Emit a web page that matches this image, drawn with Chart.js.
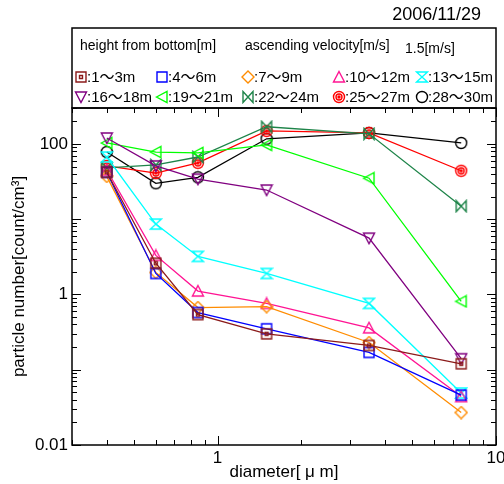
<!DOCTYPE html>
<html>
<head>
<meta charset="utf-8">
<script src="https://cdn.jsdelivr.net/npm/chart.js@4/dist/chart.umd.min.js"></script>
<style>
  html, body { margin: 0; padding: 0; background: #fff; }
  #wrap { width: 504px; height: 484px; }
</style>
</head>
<body>
<div id="wrap"><canvas id="grafico" width="504" height="484"></canvas></div>
<script>
// diámetros (µm) y concentraciones por altura
const diametros = [0.4, 0.6, 0.85, 1.5, 3.5, 7.5];
const h1_3   = [42, 2.6, 0.54, 0.30, 0.21, 0.12];
const h4_6   = [42, 1.9, 0.575, 0.35, 0.17, 0.046];
const h7_9   = [37, 1.96, 0.67, 0.69, 0.23, 0.027];
const h10_12 = [45, 3.3, 1.11, 0.76, 0.36, 0.044];
const h13_15 = [67, 8.6, 3.2, 1.9, 0.76, 0.049];
const h16_18 = [120, 51, 34, 24.4, 5.6, 0.14];
const h19_21 = [103, 78, 76, 97, 35, 0.81];
const h22_24 = [48, 52.5, 67, 169, 136, 14.9];
const h25_27 = [51, 41, 56, 149, 140, 44];
const h28_30 = [78, 30, 36, 117, 140, 103];
const etiquetas = [':1～3m', ':4～6m', ':7～9m', ':10～12m', ':13～15m',
                   ':16～18m', ':19～21m', ':22～24m', ':25～27m', ':28～30m'];
const etiquetasY = [0.01, 1, 100];
const etiquetasX = [1, 10];

const FUENTE = '"Liberation Sans", Arial, "Noto Sans CJK JP", sans-serif';

// marcadores dibujados a mano
function marcador(forma, color) {
    const c = document.createElement('canvas');
    c.width = 14; c.height = 14;
    const g = c.getContext('2d');
    g.strokeStyle = color;
    g.lineWidth = 1.4;
    g.beginPath();
    if (forma === 'cuadpunto') {
        g.rect(2, 2, 10, 10);
        g.rect(5.5, 5.5, 3, 3);
    } else if (forma === 'cuad') {
        g.rect(2, 2, 10, 10);
    } else if (forma === 'rombo') {
        g.moveTo(7, 1); g.lineTo(13, 7); g.lineTo(7, 13); g.lineTo(1, 7); g.closePath();
    } else if (forma === 'tri') {
        g.moveTo(7, 1.5); g.lineTo(12.5, 12); g.lineTo(1.5, 12); g.closePath();
    } else if (forma === 'reloj') {
        g.moveTo(1.5, 2); g.lineTo(12.5, 2); g.lineTo(1.5, 12); g.lineTo(12.5, 12); g.closePath();
    } else if (forma === 'triabajo') {
        g.moveTo(1.5, 2); g.lineTo(12.5, 2); g.lineTo(7, 12.5); g.closePath();
    } else if (forma === 'triizq') {
        g.moveTo(1.5, 7); g.lineTo(12, 1.5); g.lineTo(12, 12.5); g.closePath();
    } else if (forma === 'lazo') {
        g.moveTo(2, 1.5); g.lineTo(2, 12.5); g.lineTo(12, 1.5); g.lineTo(12, 12.5); g.closePath();
    } else if (forma === 'diana') {
        g.arc(7, 7, 5.5, 0, Math.PI * 2);
        g.moveTo(10, 7);
        g.arc(7, 7, 3, 0, Math.PI * 2);
        g.stroke();
        g.beginPath();
        g.fillStyle = color;
        g.arc(7, 7, 1, 0, Math.PI * 2);
        g.fill();
    } else {
        g.arc(7, 7, 5.5, 0, Math.PI * 2);
    }
    g.stroke();
    return c;
}

const series = [h1_3, h4_6, h7_9, h10_12, h13_15, h16_18, h19_21, h22_24, h25_27, h28_30];
const colores = ['#8B1A1A', '#0000FF', '#FF8C00', '#FF1493', '#00FFFF',
                 '#800080', '#00FF00', '#1E8449', '#FF0000', '#000000'];
const formas = ['cuadpunto', 'cuad', 'rombo', 'tri', 'reloj',
                'triabajo', 'triizq', 'lazo', 'diana', 'circulo'];
const iconos = formas.map((f, i) => marcador(f, colores[i]));

const datasets = series.map((s, i) => ({
    label: etiquetas[i],
    data: s.map((v, j) => ({ x: diametros[j], y: v })),
    borderColor: colores[i],
    backgroundColor: colores[i],
    borderWidth: 1.3,
    pointStyle: iconos[i],
    fill: false,
    tension: 0
}));

// marcas hacia dentro, marco y leyenda en caja
const decorado = {
    id: 'decorado',
    afterDraw(chart) {
        const g = chart.ctx;
        const a = chart.chartArea;
        const sx = chart.scales.x, sy = chart.scales.y;
        g.save();
        g.strokeStyle = '#000';
        g.lineWidth = 1;
        // marcas eje x
        for (let e = -1; e <= 1; e++) {
            for (let m = 1; m <= 9; m++) {
                const v = m * Math.pow(10, e);
                if (v < sx.min || v > sx.max) continue;
                const px = Math.round(sx.getPixelForValue(v)) + 0.5;
                const L = m === 1 ? 9 : 5;
                g.beginPath();
                g.moveTo(px, a.bottom); g.lineTo(px, a.bottom - L);
                g.moveTo(px, a.top); g.lineTo(px, a.top + L);
                g.stroke();
            }
        }
        // marcas eje y
        for (let e = -2; e <= 2; e++) {
            for (let m = 1; m <= 9; m++) {
                const v = m * Math.pow(10, e);
                if (v < sy.min || v > sy.max) continue;
                const py = Math.round(sy.getPixelForValue(v)) + 0.5;
                const L = m === 1 ? 9 : 5;
                g.beginPath();
                g.moveTo(a.left, py); g.lineTo(a.left + L, py);
                g.moveTo(a.right, py); g.lineTo(a.right - L, py);
                g.stroke();
            }
        }
        g.lineWidth = 1.5;
        g.strokeRect(a.left, a.top, a.right - a.left, a.bottom - a.top);
        // caja de leyenda
        g.strokeRect(a.left, 28, a.right - a.left, a.top - 28);

        g.fillStyle = '#000';
        g.textBaseline = 'middle';
        g.textAlign = 'right';
        g.font = '18px ' + FUENTE;
        g.fillText('2006/11/29', 481, 15);
        g.textAlign = 'left';
        g.font = '14px ' + FUENTE;
        g.fillText('height from bottom[m]', 80, 46);
        g.fillText('ascending velocity[m/s]', 245, 46);
        g.fillText('1.5[m/s]', 405, 49);

        const colX = [81, 162, 248, 339, 422];
        const filaY = [77, 97];
        g.font = '15px ' + FUENTE;
        for (let i = 0; i < 10; i++) {
            const cx = colX[i % 5], cy = filaY[Math.floor(i / 5)];
            g.drawImage(iconos[i], cx - 7, cy - 7);
            g.fillText(etiquetas[i], cx + 6, cy + 1);
        }
        g.restore();
    }
};

const config = {
    type: 'line',
    data: { datasets: datasets },
    options: {
        responsive: false,
        animation: false,
        layout: { padding: { top: 108, right: 8, left: 0, bottom: 0 } },
        plugins: { legend: { display: false }, tooltip: { enabled: false } },
        scales: {
            x: {
                type: 'logarithmic',
                min: 0.3,
                max: 10,
                grid: { display: false, drawTicks: false },
                border: { display: false },
                afterFit: (s) => { s.height = 39; s.paddingRight = 0; s.paddingLeft = 0; },
                ticks: {
                    autoSkip: false,
                    maxRotation: 0,
                    padding: 3,
                    color: '#000',
                    font: { size: 17, family: FUENTE },
                    callback: (v) => etiquetasX.includes(v) ? String(v) : ''
                },
                title: {
                    display: true,
                    text: 'diameter[ μ m]',
                    color: '#000',
                    padding: { top: 0, bottom: 1 },
                    font: { size: 17, family: FUENTE }
                }
            },
            y: {
                type: 'logarithmic',
                min: 0.01,
                max: 300,
                grid: { display: false, drawTicks: false },
                border: { display: false },
                afterFit: (s) => { s.width = 72; s.paddingTop = 0; s.paddingBottom = 0; },
                ticks: {
                    autoSkip: false,
                    padding: 4,
                    color: '#000',
                    font: { size: 17, family: FUENTE },
                    callback: (v) => etiquetasY.includes(v) ? String(v) : ''
                },
                title: {
                    display: true,
                    text: 'particle number[count/cm³]',
                    color: '#000',
                    padding: { top: 9, bottom: 0 },
                    font: { size: 17, family: FUENTE }
                }
            }
        }
    },
    plugins: [decorado]
};

const ctx = document.getElementById('grafico').getContext('2d');
const grafico = new Chart(ctx, config);
</script>
</body>
</html>
